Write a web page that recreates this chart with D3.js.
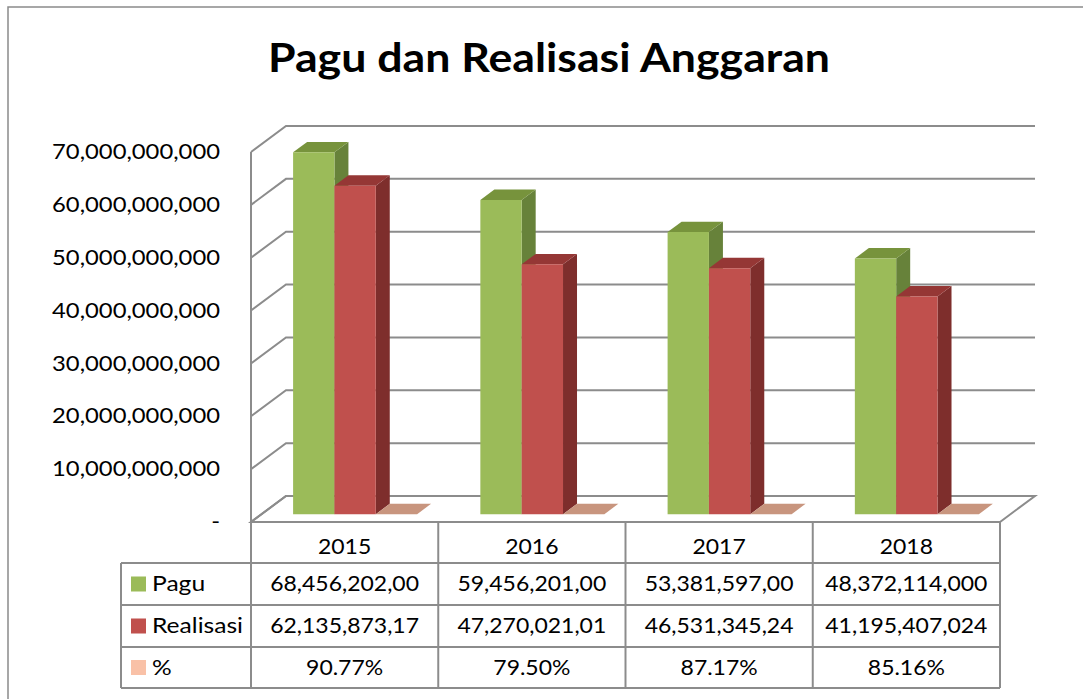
<!DOCTYPE html>
<html>
<head>
<meta charset="utf-8">
<script src="https://cdn.jsdelivr.net/npm/d3@7"></script>
<style>
  body { margin: 0; background: #fff; }
  text { font-family: Lato, "Open Sans", sans-serif; fill: #000; }
</style>
</head>
<body>
<svg id="chart" width="1083" height="699"></svg>
<script>
    const years = ["2015", "2016", "2017", "2018"];
    const seriesNames = ["Pagu", "Realisasi", "%"];
    const pagu = [68456202000, 59456201000, 53381597000, 48372114000];
    const realisasi = [62135873170, 47270021010, 46531345240, 41195407024];
    const persen = [90.77, 79.50, 87.17, 85.16];
    // table text exactly as printed in the source
    const paguLabels = ["68,456,202,00", "59,456,201,00", "53,381,597,00", "48,372,114,000"];
    const realisasiLabels = ["62,135,873,17", "47,270,021,01", "46,531,345,24", "41,195,407,024"];
    const persenLabels = ["90.77%", "79.50%", "87.17%", "85.16%"];
    const yTicks = [0, 10e9, 20e9, 30e9, 40e9, 50e9, 60e9, 70e9];

    const colors = {
        "Pagu": { front: "#9bbb59", top: "#77933c", side: "#67823a", key: "#9bbb59" },
        "Realisasi": { front: "#c0504d", top: "#953735", side: "#7e2e2c", key: "#c0504d" },
        "%": { front: "#c9977f", top: "#c8957e", side: "#b07f69", key: "#f9c1a7" }
    };

    const svg = d3.select("#chart");
    const gridColor = "#8c8c8c";

    // floor front from x 251 to 1000, depth offset DX/DY
    const DX = 35, DY = 26;
    const left = 251, right = 1000;
    const y = d3.scaleLinear().domain([0, 70e9]).range([522, 152]);
    const cols = d3.scaleBand().domain(years).range([left, right]);
    const inner = d3.scaleBand().domain(seriesNames).range([31.6, 155.6]);
    const z0 = 0.3, z1 = 0.7;

    function P(x, v, z) {
        return [x + z * DX, y(v) - z * DY];
    }

    function stretch(sel, k) {
        sel.each(function () {
            const w = this.getComputedTextLength();
            d3.select(this).attr("textLength", w * k).attr("lengthAdjust", "spacingAndGlyphs");
        });
    }

    // outer frame
    svg.append("rect")
        .attr("x", 8).attr("y", 7)
        .attr("width", 1100).attr("height", 720)
        .attr("fill", "none")
        .attr("stroke", "#8a8a8a")
        .attr("stroke-width", 1.5);

    // title
    svg.append("text")
        .attr("x", 268).attr("y", 72)
        .attr("font-size", 40)
        .attr("font-weight", "bold")
        .attr("textLength", 562)
        .attr("lengthAdjust", "spacingAndGlyphs")
        .text("Pagu dan Realisasi Anggaran");

    // walls + gridlines
    const grid = svg.append("g")
        .attr("fill", "none")
        .attr("stroke", gridColor)
        .attr("stroke-width", 2);

    grid.selectAll("path.gl")
        .data(yTicks)
        .enter()
        .append("path")
        .attr("class", "gl")
        .attr("d", t => {
            const a = P(left, t, 0), b = P(left, t, 1);
            return `M${a}L${b}L${right + DX},${b[1]}`;
        });

    grid.append("line")
        .attr("x1", left).attr("x2", left)
        .attr("y1", y(70e9)).attr("y2", y(0));

    // floor
    grid.append("path")
        .attr("d", () => {
            const a = P(left, 0, 0), b = P(right, 0, 0), c = P(right, 0, 1), d = P(left, 0, 1);
            return `M${a}L${b}L${c}L${d}Z`;
        });

    // y tick labels
    const tickLabels = svg.append("g")
        .selectAll("text")
        .data(yTicks)
        .enter()
        .append("text")
        .attr("x", 220)
        .attr("y", t => y(t))
        .attr("dy", "0.35em")
        .attr("text-anchor", "end")
        .attr("font-size", 20.5)
        .text(t => t === 0 ? "-" : d3.format(",")(t));
    stretch(tickLabels, 1.16);

    // 3D bars
    const bars = [];
    years.forEach((yr, i) => {
        bars.push({ s: "Pagu", x: cols(yr) + inner("Pagu"), v: pagu[i] });
        bars.push({ s: "Realisasi", x: cols(yr) + inner("Realisasi"), v: realisasi[i] });
        bars.push({ s: "%", x: cols(yr) + inner("%"), v: persen[i] });
    });
    const w = inner.bandwidth();

    const barG = svg.append("g")
        .selectAll("g")
        .data(bars)
        .enter()
        .append("g");

    barG.append("path")
        .attr("fill", d => colors[d.s].side)
        .attr("d", d => `M${P(d.x + w, 0, z0)}L${P(d.x + w, 0, z1)}L${P(d.x + w, d.v, z1)}L${P(d.x + w, d.v, z0)}Z`);
    barG.append("path")
        .attr("fill", d => colors[d.s].top)
        .attr("d", d => `M${P(d.x, d.v, z0)}L${P(d.x + w, d.v, z0)}L${P(d.x + w, d.v, z1)}L${P(d.x, d.v, z1)}Z`);
    barG.append("path")
        .attr("fill", d => colors[d.s].front)
        .attr("d", d => `M${P(d.x, 0, z0)}L${P(d.x + w, 0, z0)}L${P(d.x + w, d.v, z0)}L${P(d.x, d.v, z0)}Z`);

    // data table
    const rowTop = [522, 563, 605, 647, 688];
    const tableLeft = 121;
    const table = svg.append("g")
        .attr("stroke", gridColor)
        .attr("stroke-width", 2)
        .attr("fill", "none");

    // horizontal lines
    table.append("line").attr("x1", left).attr("x2", right).attr("y1", rowTop[0]).attr("y2", rowTop[0]);
    rowTop.slice(1).forEach(r => {
        table.append("line").attr("x1", tableLeft).attr("x2", right).attr("y1", r).attr("y2", r);
    });
    // vertical lines
    table.append("line").attr("x1", tableLeft).attr("x2", tableLeft).attr("y1", rowTop[1]).attr("y2", rowTop[4]);
    years.forEach(yr => {
        table.append("line").attr("x1", cols(yr)).attr("x2", cols(yr)).attr("y1", rowTop[0]).attr("y2", rowTop[4]);
    });
    table.append("line").attr("x1", right).attr("x2", right).attr("y1", rowTop[0]).attr("y2", rowTop[4]);

    const cellText = svg.append("g").attr("font-size", 20.5);

    const headers = cellText.selectAll("text.hd")
        .data(years)
        .enter()
        .append("text")
        .attr("class", "hd")
        .attr("x", d => cols(d) + cols.bandwidth() / 2)
        .attr("y", (rowTop[0] + rowTop[1]) / 2 + 4)
        .attr("dy", "0.35em")
        .attr("text-anchor", "middle")
        .text(d => d);
    stretch(headers, 1.12);

    const rows = [
        { name: "Pagu", labels: paguLabels },
        { name: "Realisasi", labels: realisasiLabels },
        { name: "%", labels: persenLabels }
    ];

    rows.forEach((r, ri) => {
        const cy = (rowTop[ri + 1] + rowTop[ri + 2]) / 2;
        svg.append("rect")
            .attr("x", 131).attr("y", cy - 7.5)
            .attr("width", 15).attr("height", 15)
            .attr("fill", colors[r.name].key);
        const lab = cellText.append("text")
            .attr("x", 152).attr("y", cy)
            .attr("dy", "0.35em")
            .text(r.name);
        stretch(lab, 1.2);
        const vals = cellText.selectAll("text.r" + ri)
            .data(r.labels)
            .enter()
            .append("text")
            .attr("class", "r" + ri)
            .attr("x", (d, i) => cols(years[i]) + cols.bandwidth() / 2)
            .attr("y", cy)
            .attr("dy", "0.35em")
            .attr("text-anchor", "middle")
            .text(d => d);
        stretch(vals, 1.12);
    });
</script>
</body>
</html>
